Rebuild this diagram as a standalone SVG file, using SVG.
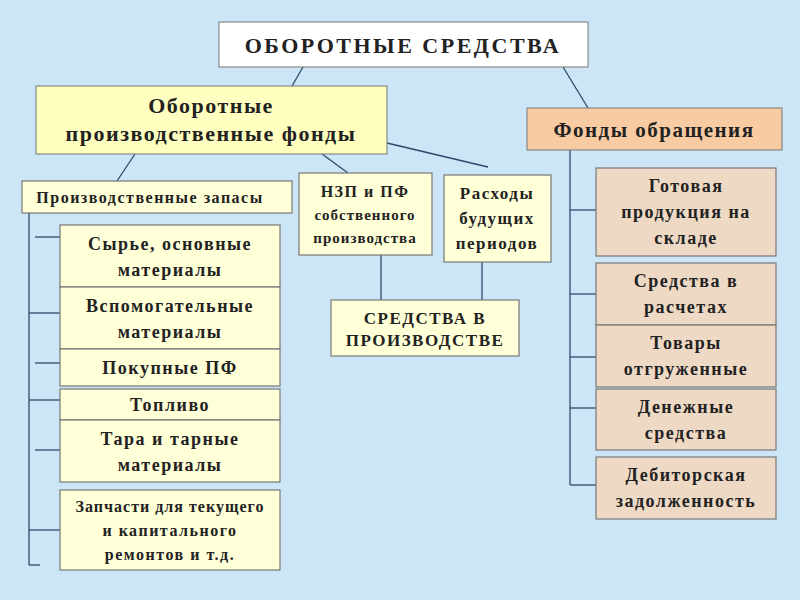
<svg xmlns="http://www.w3.org/2000/svg" width="800" height="600" viewBox="0 0 800 600">
<style>
text{font-family:"Liberation Serif",serif;font-weight:bold;fill:#222;text-anchor:middle;letter-spacing:1.5px}
.y{fill:#FFFFD8;stroke:#777;stroke-width:1.2}
.t{fill:#EED9C4;stroke:#777;stroke-width:1.2}
#conn line{stroke:#2C4A6A;stroke-width:1.3}
</style>
<rect width="800" height="600" fill="#CCE6F8"/>
<g id="conn">
<line x1="303" y1="67" x2="292" y2="86"/><line x1="563" y1="67" x2="588" y2="108"/>
<line x1="135" y1="154" x2="117" y2="181"/><line x1="322" y1="154" x2="348" y2="173"/><line x1="387" y1="143" x2="488" y2="167"/>
<line x1="381" y1="255" x2="381" y2="300"/><line x1="482" y1="262" x2="482" y2="300"/>
<line x1="29" y1="213" x2="29" y2="565"/>
<line x1="35" y1="237" x2="60" y2="237"/><line x1="29" y1="313" x2="60" y2="313"/><line x1="35" y1="363" x2="60" y2="363"/><line x1="29" y1="400" x2="60" y2="400"/><line x1="35" y1="450" x2="60" y2="450"/><line x1="29" y1="530" x2="60" y2="530"/><line x1="29" y1="565" x2="40" y2="565"/>
<line x1="570" y1="150" x2="570" y2="485"/>
<line x1="570" y1="210" x2="596" y2="210"/><line x1="570" y1="294" x2="596" y2="294"/><line x1="570" y1="357" x2="596" y2="357"/><line x1="570" y1="408" x2="596" y2="408"/><line x1="570" y1="485" x2="596" y2="485"/>
</g>
<g id="root"><rect x="219" y="22" width="369" height="45" fill="#fff" stroke="#777"/><text x="403" y="53" font-size="22" style="letter-spacing:2.5px">ОБОРОТНЫЕ СРЕДСТВА</text></g>
<g id="opf"><rect x="36" y="86" width="351" height="68" fill="#FFFFC0" stroke="#777"/><text x="211" y="113" font-size="22">Оборотные</text><text x="211" y="141" font-size="22">производственные фонды</text></g>
<g id="fo"><rect x="527" y="108" width="255" height="42" fill="#F9CBA3" stroke="#777"/><text x="654" y="137" font-size="21">Фонды обращения</text></g>
<g id="pz"><rect class="y" x="22" y="181" width="270" height="32"/><text x="150" y="203" font-size="16">Производственные запасы</text></g>
<g id="nzp"><rect class="y" x="299" y="173" width="133" height="82"/><text x="365" y="197" font-size="16">НЗП и ПФ</text><text x="365" y="220" font-size="15" style="letter-spacing:1px">собственного</text><text x="365" y="243" font-size="15" style="letter-spacing:1px">производства</text></g>
<g id="rbp"><rect class="y" x="444" y="175" width="107" height="87"/><text x="497" y="199" font-size="17">Расходы</text><text x="497" y="224" font-size="17">будущих</text><text x="497" y="249" font-size="17">периодов</text></g>
<g id="svp"><rect class="y" x="331" y="300" width="188" height="56"/><text x="425" y="324" font-size="17">СРЕДСТВА В</text><text x="425" y="346" font-size="17">ПРОИЗВОДСТВЕ</text></g>
<g id="l1"><rect class="y" x="60" y="225" width="220" height="62"/><text x="170" y="250" font-size="18">Сырье, основные</text><text x="170" y="276" font-size="18">материалы</text></g>
<g id="l2"><rect class="y" x="60" y="287" width="220" height="62"/><text x="170" y="312" font-size="18">Вспомогательные</text><text x="170" y="338" font-size="18">материалы</text></g>
<g id="l3"><rect class="y" x="60" y="349" width="220" height="37"/><text x="170" y="374" font-size="18">Покупные ПФ</text></g>
<g id="l4"><rect class="y" x="60" y="389" width="220" height="31"/><text x="170" y="411" font-size="18">Топливо</text></g>
<g id="l5"><rect class="y" x="60" y="420" width="220" height="62"/><text x="170" y="445" font-size="18">Тара и тарные</text><text x="170" y="471" font-size="18">материалы</text></g>
<g id="l6"><rect class="y" x="60" y="490" width="220" height="80"/><text x="170" y="512" font-size="16" style="letter-spacing:1px">Запчасти для текущего</text><text x="170" y="536" font-size="16">и капитального</text><text x="170" y="560" font-size="16">ремонтов и т.д.</text></g>
<g id="r1"><rect class="t" x="596" y="168" width="180" height="88"/><text x="686" y="192" font-size="18">Готовая</text><text x="686" y="218" font-size="18">продукция на</text><text x="686" y="244" font-size="18">складе</text></g>
<g id="r2"><rect class="t" x="596" y="263" width="180" height="62"/><text x="686" y="287" font-size="18">Средства в</text><text x="686" y="313" font-size="18">расчетах</text></g>
<g id="r3"><rect class="t" x="596" y="325" width="180" height="62"/><text x="686" y="349" font-size="18">Товары</text><text x="686" y="375" font-size="18">отгруженные</text></g>
<g id="r4"><rect class="t" x="596" y="389" width="180" height="61"/><text x="686" y="413" font-size="18">Денежные</text><text x="686" y="439" font-size="18">средства</text></g>
<g id="r5"><rect class="t" x="596" y="457" width="180" height="62"/><text x="686" y="481" font-size="18">Дебиторская</text><text x="686" y="507" font-size="18">задолженность</text></g>
</svg>
